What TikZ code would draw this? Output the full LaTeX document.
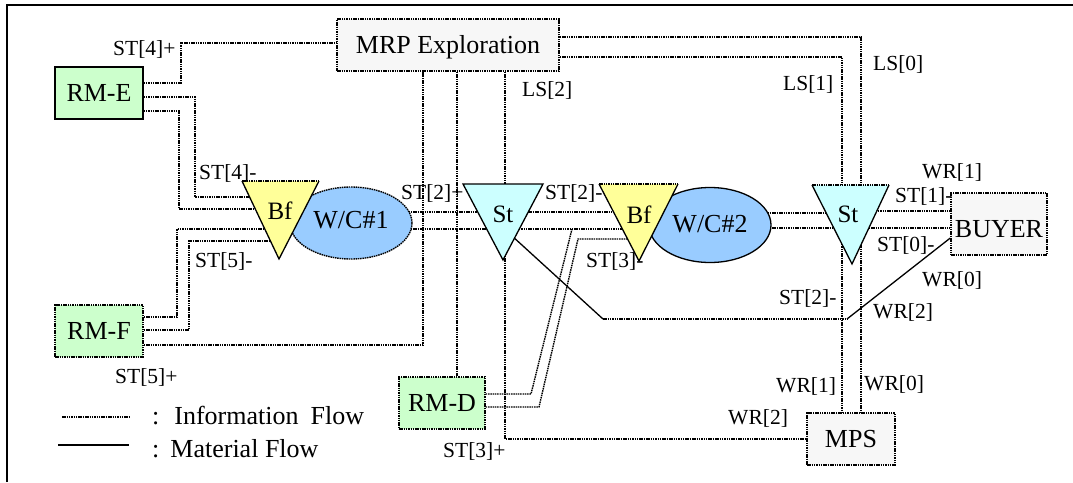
\documentclass[tikz,border=0pt]{standalone}
\usepackage{fontspec}
\setmainfont{Liberation Serif}
\usetikzlibrary{shapes.geometric}
\definecolor{rmgreen}{HTML}{CCFFCC}
\definecolor{ctlgray}{HTML}{F7F7F7}
\definecolor{bfyellow}{HTML}{FFFF99}
\definecolor{stcyan}{HTML}{CCFFFF}
\definecolor{wcblue}{HTML}{99CCFF}
\pgfdeclarelayer{wires}
\pgfsetlayers{wires,main}
\begin{document}
\begin{tikzpicture}[x=1pt,y=-1pt,
  info/.style={line width=1.4pt, dash pattern=on 1.5pt off 0.8pt},
  matl/.style={line width=1.3pt},
  bigtext/.style={font=\fontsize{26}{30}\selectfont},
  unit/.style={bigtext, rectangle, inner sep=0pt, text height=17pt, text depth=0pt, minimum height=52pt},
  rawbox/.style={unit, fill=rmgreen, draw},
  ctlbox/.style={unit, fill=ctlgray, draw},
  wcell/.style={ellipse, fill=wcblue, draw, inner sep=0pt, bigtext, text height=17pt, minimum width=122pt},
  symtext/.style={font=\fontsize{25}{30}\selectfont, inner sep=0pt, anchor=base},
  tag/.style={font=\fontsize{21.5}{24}\selectfont, inner sep=0pt, anchor=base west},
  legendtext/.style={font=\fontsize{26}{30}\selectfont, inner sep=0pt, anchor=base west}]

\useasboundingbox (0,0) rectangle (1073,482);
% outer frame
\draw[line width=1.6pt] (7,482) -- (7,5) -- (1073,5);

% planning and stock boxes
\node[ctlbox, info, minimum width=222pt] (MRP) at (448,45) {MRP Exploration};
\node[rawbox, matl, minimum width=88pt] (RME) at (99,93) {RM-E};
\node[rawbox, info, minimum width=88pt] (RMF) at (99,331) {RM-F};
\node[rawbox, info, minimum width=86pt] (RMD) at (442,403) {RM-D};
\node[ctlbox, info, minimum width=88pt] (MPS) at (851,439) {MPS};
\node[ctlbox, info, minimum width=96pt, minimum height=62pt, text height=26pt] (BUYER) at (999,224) {BUYER};

% work centres
\node[wcell, info, minimum height=72pt, text depth=7pt] (WC1) at (351,223) {W/C\#1};
\node[wcell, matl, minimum height=75pt, text depth=3pt] (WC2) at (710,225) {W/C\#2};

% buffers and stores
\fill[bfyellow] (242,181) -- (319,181) -- (279,259) -- cycle;
\draw[matl, line join=miter] (242,181) -- (279,259) -- (319,181);
\draw[info] (242,181) -- (319,181);
\node[symtext] (Bf1) at (280,219) {Bf};

\fill[stcyan] (463,184) -- (543,184) -- (503,260) -- cycle;
\draw[matl, line join=miter] (463,184) -- (543,184) -- (503,260) -- cycle;
\node[symtext] (St1) at (503,222) {St};

\fill[bfyellow] (599,184) -- (678,184) -- (639,261) -- cycle;
\draw[matl, line join=miter] (599,184) -- (639,261) -- (678,184);
\draw[info] (599,184) -- (678,184);
\node[symtext] (Bf2) at (639,223) {Bf};

\fill[stcyan] (812,185) -- (889,185) -- (852,264) -- cycle;
\draw[matl, line join=miter] (812,185) -- (852,264) -- (889,185);
\draw[info] (812,185) -- (889,185);
\node[symtext] (St2) at (848,222) {St};

\coordinate (St1m) at (500,225);

% connectors
\begin{pgfonlayer}{wires}
  \draw[info] (RME.east |- 0,83) -- (181,83) -- (181,43) -- (MRP.west |- 0,43);
  \draw[info] (RME.east |- 0,97) -| (195,197) -- (Bf1 |- 0,197);
  \draw[info] (RME.east |- 0,111) -| (179,209) -- (Bf1 |- 0,209);
  \draw[info] (RMF.east |- 0,317) -| (177,229) -- (Bf1 |- 0,229);
  \draw[info] (RMF.east |- 0,330) -| (189,241) -- (Bf1 |- 0,241);
  \draw[info] (RMF.east |- 0,345) -| (MRP.south -| 423,0);
  \draw[info] (MRP.south -| 457,0) -- (RMD.north -| 457,0);
  \draw[info] (MRP.south -| 505,0) -- (505,439) -- (MPS.west |- 0,439);
  \draw[info] (MRP.east |- 0,37) -| (MPS.north -| 861,0);
  \draw[info] (MRP.east |- 0,57) -| (MPS.north -| 842,0);
  \draw[info] (WC1 |- 0,212) -- (St1 |- 0,212) -- (Bf2 |- 0,212);
  \draw[info] (WC1 |- 0,229) -- (St1 |- 0,229) -- (Bf2 |- 0,229);
  \draw[info] (WC2 |- 0,213) -- (St2 |- 0,213);
  \draw[info] (WC2 |- 0,228) -- (St2 |- 0,228);
  \draw[info] (St2 |- 0,211) -- (BUYER.west |- 0,211);
  \draw[info] (St2 |- 0,228) -- (BUYER.west |- 0,228);
  \draw[info] (RMD.east |- 0,394) -- (531,394) -- (572,229);
  \draw[info] (RMD.east |- 0,407) -- (539,407) -- (578,239) -- (Bf2 |- 0,239);
  \draw[matl] (St1m) -- (603,319);
  \draw[info] (603,319) -- (847,319);
  \draw[matl] (847,319) -- (BUYER.west |- 0,238);
\end{pgfonlayer}

% signal labels
\node[tag] (tST4p) at (113,55) {ST[4]+};
\node[tag] (tST4m) at (199,179) {ST[4]-};
\node[tag] (tST5m) at (195,267) {ST[5]-};
\node[tag] (tST5p) at (115,383) {ST[5]+};
\node[tag] (tST2p) at (401,199) {ST[2]+};
\node[tag] (tST2m) at (545,199) {ST[2]-};
\node[tag] (tLS2) at (522,96) {LS[2]};
\node[tag] (tLS1) at (783,90) {LS[1]};
\node[tag] (tLS0) at (873,70) {LS[0]};
\node[tag] (tWR1a) at (922,178) {WR[1]};
\node[tag] (tST1m) at (895,202) {ST[1]-};
\node[tag] (tST0m) at (877,251) {ST[0]-};
\node[tag] (tWR0a) at (922,286) {WR[0]};
\node[tag] (tST2mb) at (779,304) {ST[2]-};
\node[tag] (tWR2a) at (873,318) {WR[2]};
\node[tag] (tWR1b) at (776,392) {WR[1]};
\node[tag] (tWR0b) at (864,390) {WR[0]};
\node[tag] (tWR2b) at (728,424) {WR[2]};
\node[tag] (tST3p) at (443,457) {ST[3]+};
\node[tag] (tST3m) at (586,267) {ST[3]-};

% legend
\coordinate (li0) at (62,417);
\coordinate (li1) at (129,417);
\coordinate (lm0) at (58,445);
\coordinate (lm1) at (129,445);
\draw[info] (li0) -- (li1);
\draw[matl] (lm0) -- (lm1);
\node[legendtext] (legInfo) at (152,424) {:\hspace{15pt}Information\hspace{12pt}Flow};
\node[legendtext] (legMatl) at (152,457) {:\hspace{11pt}Material Flow};
\end{tikzpicture}
\end{document}
